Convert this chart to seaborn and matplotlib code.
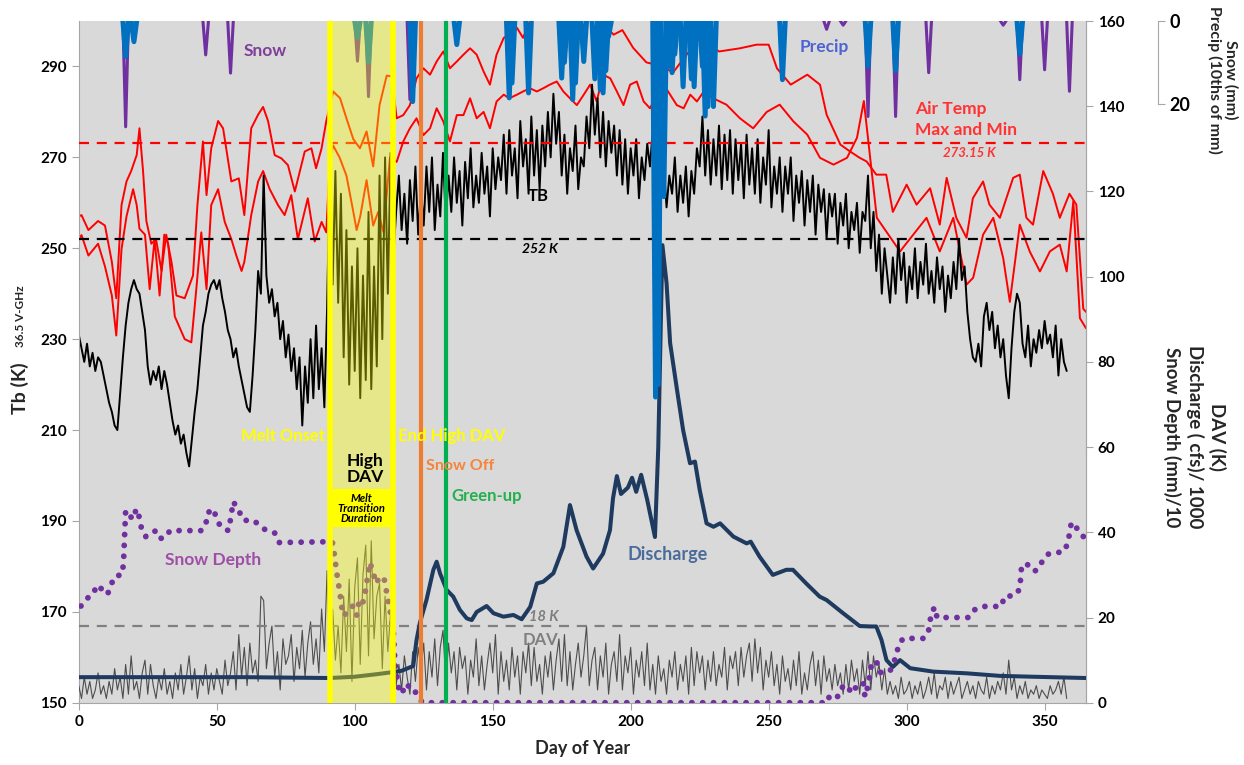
import numpy as np
import pandas as pd
import matplotlib
matplotlib.use("Agg")
import matplotlib.pyplot as plt
from matplotlib.patches import Rectangle
import seaborn as sns

# ---------------- values ----------------
# 36.5 V-GHz brightness temperature, one value per day (day 0 .. 358)
tb_k = [
    231, 228, 225, 229, 224, 227, 223, 226, 225, 222,
    219, 216, 214, 211, 210, 218, 226, 233, 238, 241,
    243, 241, 240, 236, 232, 224, 220, 223, 221, 224,
    219, 223, 220, 216, 212, 209, 211, 207, 209, 205,
    202, 208, 214, 219, 226, 233, 236, 240, 242, 243,
    241, 243, 239, 236, 232, 230, 226, 228, 224, 221,
    218, 215, 214, 222, 232, 245, 240, 266, 244, 238,
    241, 235, 238, 230, 234, 226, 231, 223, 228, 219,
    226, 211, 224, 216, 230, 217, 233, 219, 228, 215,
    237, 269, 242, 267, 238, 262, 226, 254, 220, 246,
    223, 250, 217, 244, 221, 258, 219, 246, 224, 266,
    230, 270, 240, 271, 248, 258, 266, 254, 262, 251,
    265, 256, 268, 253, 263, 255, 268, 258, 270, 254,
    264, 257, 271, 256, 266, 258, 270, 260, 267, 255,
    269, 261, 272, 259, 266, 260, 271, 262, 268, 257,
    272, 263, 270, 265, 275, 262, 276, 266, 272, 261,
    278, 268, 274, 262, 279, 266, 276, 263, 277, 268,
    280, 270, 284, 273, 280, 266, 275, 262, 272, 267,
    277, 263, 270, 268, 279, 272, 286, 275, 283, 270,
    280, 268, 278, 271, 277, 266, 276, 264, 274, 262,
    272, 266, 274, 261, 270, 265, 273, 268, 276, 262,
    270, 264, 268, 259, 266, 262, 270, 258, 266, 260,
    268, 257, 267, 262, 272, 268, 279, 266, 276, 264,
    274, 266, 277, 263, 275, 265, 276, 262, 274, 265,
    273, 261, 275, 264, 272, 262, 274, 260, 270, 264,
    276, 259, 268, 262, 270, 258, 268, 262, 270, 256,
    266, 260, 267, 255, 265, 258, 266, 253, 264, 258,
    263, 252, 262, 257, 262, 251, 260, 255, 262, 250,
    258, 254, 260, 249, 258, 256, 266, 250, 258, 245,
    253, 240, 250, 244, 238, 248, 240, 252, 243, 249,
    238, 246, 241, 250, 239, 247, 242, 251, 240, 245,
    238, 248, 241, 246, 236, 244, 239, 247, 241, 252,
    243, 246, 236, 230, 226, 225, 229, 224, 235, 238,
    232, 236, 228, 233, 226, 230, 222, 217, 228, 236,
    240, 238, 229, 226, 233, 224, 230, 227, 232, 228,
    234, 229, 231, 226, 233, 222, 230, 225, 223,
]

# diurnal amplitude variation (K), one value per day
dav_k = [
    4, 1, 6, 2, 5, 1, 3, 7, 2, 4,
    1, 5, 2, 8, 3, 6, 1, 9, 2, 11,
    3, 5, 1, 7, 10, 2, 9, 4, 1, 6,
    3, 8, 2, 5, 1, 7, 3, 9, 2, 6,
    11, 3, 8, 1, 6, 4, 9, 2, 7, 3,
    8, 5, 2, 10, 4, 7, 12, 3, 16, 6,
    13, 4, 14, 7, 10, 5, 25, 24, 8, 14,
    18, 6, 12, 3, 15, 9, 11, 16, 5, 13,
    8, 17, 6, 14, 19, 9, 15, 7, 22, 12,
    31, 6, 22, 10, 18, 7, 25, 12, 29, 5,
    27, 34, 9, 30, 37, 11, 38, 15, 25, 28,
    8, 25, 12, 21, 16, 4, 9, 3, 11, 6,
    2, 12, 5, 13, 8, 14, 3, 12, 6, 15,
    4, 13, 17, 5, 14, 7, 12, 3, 13, 8,
    11, 2, 10, 6, 15, 4, 11, 3, 9, 14,
    7, 16, 2, 12, 5, 10, 3, 13, 6, 11,
    2, 12, 7, 14, 4, 13, 5, 9, 2, 11,
    6, 12, 3, 10, 15, 5, 16, 4, 12, 3,
    9, 14, 6, 11, 18, 4, 10, 13, 3, 11,
    6, 14, 2, 9, 12, 5, 16, 3, 11, 7,
    13, 2, 10, 6, 12, 4, 14, 3, 9, 2,
    11, 5, 8, 2, 10, 6, 12, 3, 9, 5,
    11, 2, 13, 4, 12, 7, 11, 3, 10, 5,
    12, 4, 9, 6, 13, 3, 11, 8, 12, 4,
    13, 6, 11, 14, 5, 15, 7, 13, 3, 10,
    6, 12, 4, 9, 2, 11, 5, 8, 3, 10,
    4, 12, 2, 7, 3, 9, 12, 4, 10, 2,
    11, 5, 8, 3, 9, 4, 7, 2, 9, 3,
    10, 5, 8, 2, 10, 4, 12, 3, 11, 6,
    9, 3, 8, 2, 5, 2, 4, 1, 6, 2,
    3, 5, 1, 4, 2, 5, 1, 3, 6, 2,
    7, 1, 4, 3, 6, 1, 5, 2, 4, 6,
    1, 3, 5, 2, 4, 1, 5, 3, 2, 6,
    1, 4, 2, 5, 3, 7, 2, 10, 3, 6,
    1, 4, 2, 5, 1, 3, 2, 4, 1, 3,
    2, 1, 4, 2, 3, 5, 2, 6, 1,
]

# air temperature max / min (K)
airmax_day = [0, 1, 3.5, 7, 9.5, 12, 13.6, 15.5, 17.3, 19, 21, 22, 23.3, 24.5, 26.3,
              28, 30, 31.7, 33.6, 35.4, 38.4, 41.4, 43, 45, 46.3, 48, 50.5, 52.3, 55.3,
              58, 60, 62.5, 65, 66.8, 68.6, 71, 73.4, 75.8, 78.3, 81.9, 84.3, 86, 88, 89.7,
              92.2, 94.7, 97, 99.5, 101.9, 104.3, 106.7, 109, 111.6, 113.4, 115.2, 117.6,
              120, 122.4, 124.9, 127.3, 129.7, 132.1, 134.5, 137, 139.4, 141.8, 144.2,
              146.7, 149, 151.4, 154, 156, 158.8, 161, 163.5, 167, 171, 175, 179, 183,
              187, 190, 193.8, 197, 200.9, 205.7, 210.5, 215.4, 220, 225, 232, 239.6,
              245.6, 250, 253, 258, 264, 268.6, 271, 276, 279.5, 283, 285.5, 289, 292.6,
              295, 300, 303.6, 308.5, 312, 314.5, 318, 321.7, 324, 327.7, 330, 333.8,
              338.6, 341, 343.4, 345.8, 349.5, 353, 355.5, 359, 361.5, 364, 365]
airmax_k = [257, 257.3, 254, 256, 255, 247, 239, 259.5, 264.7, 267, 270.5, 276.4, 267, 256, 251,
            252, 245, 253, 247, 239.6, 239, 244, 259.5, 273.5, 261.7, 272, 278, 276.4, 264.7,
            265.4, 257.3, 276.4, 279.4, 281.1, 278, 270.5, 269.8, 268.3, 262.5, 271.3, 272, 267.6, 272, 278,
            284.5, 283, 278.6, 274, 272, 275.7, 268, 281.5, 288, 287.8, 278.6, 279.3,
            281.5, 287.4, 289.6, 288.2, 291.1, 293.3, 289.6, 291.1, 292.6, 294, 292.6,
            288.9, 286, 292.6, 296.3, 297, 298.5, 296.3, 300, 301, 303, 300.5, 302, 300.5,
            302, 299.5, 297, 298, 294.1, 290.9, 290.2, 288.7, 292.4, 296.2, 293.3, 294,
            294.8, 294.8, 289.6, 286, 288.2, 286, 279.4, 272.8, 271.3, 269.9, 269.1, 266.2, 266.2,
            258, 264, 259.6, 263.2, 255.2, 265.5, 256.7, 252.3, 261, 264.7, 259.6, 256.7,
            265.5, 266.2, 256.7, 255.2, 267, 262, 256.7, 262, 259.6, 236.7, 236]
airmin_day = [0, 1, 3.5, 7, 9.5, 12, 13.6, 15.5, 17.3, 19.7, 21, 22, 24, 25.7, 27.5, 29.3,
              31, 32.4, 34.8, 38.4, 40.8, 42.6, 44.4, 46.3, 48, 50.5, 52.9, 55.3, 57.1, 59,
              60, 62.5, 65, 66.8, 69.2, 72.2, 74.6, 77, 79.4, 83, 85.5, 88, 89.7,
              91, 92.2, 94.5, 97, 99.5, 100.7, 102, 104.3, 106.7, 108.5, 110.4, 112.8,
              115.2, 117.6, 120, 122.4, 124.9, 127.3, 129.7, 132.1, 134.5, 137, 139.4,
              141.8, 144.2, 146.7, 149, 151.4, 154, 156, 158.8, 161, 163.5, 166, 168.3,
              170.7, 173.2, 175.6, 178, 180.5, 183, 185.3, 187.7, 190, 192.6, 195, 197.4,
              199.8, 202.2, 204.7, 207, 209.5, 212, 214.3, 216.7, 219.2, 221.6, 224, 226.5,
              229.9, 234.7, 239.6, 244.4, 249.3, 254, 259, 264, 268.6, 273.5, 278.4, 282,
              284.5, 286.8, 289.2, 292.6, 297.6, 302.4, 307.2, 312, 316.9, 321.7, 324.1,
              327.7, 331.4, 335, 337.4, 341, 344.6, 348.3, 351.9, 355.5, 358, 360.4, 362.8, 365]
airmin_k = [252, 252.9, 248.4, 251, 246, 239.6, 230.8, 249.8, 257, 263, 259.5, 254.3, 253, 241, 252, 239.6,
            253, 251, 235, 230, 229.3, 241, 253.5, 241, 259.5, 263, 255.8, 252, 248.4, 245,
            247, 257.3, 264.7, 267, 263, 259.5, 257.3, 261.7, 252, 261, 251.5, 255.8, 253.5,
            269.7, 272.6, 270, 266, 258, 254, 257, 265, 255, 258, 253.6, 270,
            269, 273.5, 276.4, 278.6, 274.9, 276.4, 280.8, 277.9, 273.5, 279.3, 279.3,
            283, 278.6, 280, 276.4, 282.3, 283.8, 283, 283.8, 284.5, 285.2, 284.5, 285.2,
            286, 286.7, 284.5, 283, 281.5, 283.8, 286, 282.3, 288.2, 287.4, 284.5, 281.5,
            286, 286.7, 282.3, 280.8, 283.8, 286, 283.8, 281.5, 280.8, 283.8, 282.3, 284.5,
            283, 281.6, 278.6, 276.4, 280, 281.6, 277.9, 275, 269.9, 268.4, 269.9, 274.3,
            282.4, 269.9, 256.7, 253.7, 249.3, 253, 256.7, 249.3, 256.7, 242, 243.5,
            253, 256.7, 247.8, 238.2, 255.2, 249.3, 244.9, 249.3, 250.8, 244.9, 260.4, 234.6, 232.4]

# discharge (cfs / 1000)
q_day = [0, 30, 60, 91, 100, 108, 114, 117, 120, 121.2, 122.4, 123.6, 126, 128.5, 129.7,
         130.9, 133.3, 135.7, 138.1, 140.6, 142.4, 144.2, 147.8, 150.3, 153.9, 157.5, 160.5,
         163.6, 166, 168.3, 172, 175.6, 178, 180.4, 184, 186.4, 190, 192.5, 193.6, 195,
         196.5, 199, 200.5, 202, 203.8, 206, 208.8, 210, 211.5, 213, 214.3, 216.8, 219,
         221.5, 223.3, 225, 227.5, 230, 232.4, 237.2, 242, 243.5, 246.7, 251.5, 256.4,
         258.8, 263.6, 268.5, 271, 277, 283, 286.7, 289, 290.9, 292.7, 295, 297.6, 301.3,
         309.7, 321.8, 333.8, 345.9, 365]
q_val = [6, 6, 6, 5.8, 6.1, 6.7, 7.2, 7.5, 8.3, 8.6, 14.7, 18.7, 24.1, 31.2, 33.1,
         30.4, 26.5, 24.9, 21.8, 19.8, 19.4, 21.3, 22.7, 21, 20.2, 20.6, 19.6,
         22.5, 28, 28.4, 30.4, 36.6, 46.4, 40.5, 34.3, 31.5, 35, 40.5, 48, 53.2,
         49, 50.5, 52.8, 49.5, 53.5, 47.6, 38.9, 60, 107.4, 98.5, 84.4, 73.4, 64,
         56.2, 56.6, 50, 42.1, 41.3, 42.1, 39, 37.4, 37.8, 34.3, 30, 31.2,
         31.2, 28, 24.9, 24.1, 21, 18, 17.9, 17.9, 14.7, 10, 8.4, 10, 8.1,
         7.3, 6.9, 6.3, 6.1, 5.8]

# snow depth (mm / 10)
sd_day = [0.8, 2.6, 5.3, 6.5, 8.7, 10.4, 11.7, 12.9, 15.7, 16.2, 16.5, 17, 18, 19.8, 20.8,
          22.2, 22.8, 24.3, 25.5, 27.9, 29.5, 31, 33.1, 44.5, 46.1, 46.6, 48.8, 50, 51.4,
          54.2, 54.8, 56, 58.2, 59.7, 63.5, 65.7, 68.1, 71.1, 72.6, 91.9, 92.5, 93.5, 94.7,
          95.7, 97.5, 99.3, 100.7, 101.7, 102.9, 103.7, 104.3, 105.5, 106.7, 107.7, 109.2,
          110.6, 111.3, 112.8, 114, 114.6, 115.6, 116.4, 117.6, 119, 120.6, 122, 123.5,
          124.5, 270.5, 271.6, 272.8, 275.8, 277, 278, 280.7, 281.9, 284.3, 284.9, 286.1,
          287.3, 289.1, 290.3, 293.9, 296.4, 297, 298.8, 306, 307.8, 308.4, 309, 310.2,
          311, 322.3, 324, 327, 334.3, 335.5, 339.1, 341, 341.6, 343.4, 345.3, 347, 348.8,
          350.7, 353, 356.6, 358.5, 359, 359.7, 360.5, 362.9, 364.5]
sd_val = [22.7, 24.3, 25.5, 27.6, 26.5, 25.4, 27.6, 29.6, 30.1, 32.6, 37.4, 45.1, 44.1, 43.1, 45.5,
          43.1, 40.5, 39, 39.2, 40.4, 38.6, 38.6, 40.4, 40.4, 42, 44.5, 45.5, 43.1, 41.3,
          40.4, 42.3, 47.2, 44.8, 42.8, 42.8, 41.4, 40.4, 39.8, 37.6, 37.8, 35.4, 30.5, 25.4,
          20.5, 21.1, 22.7, 20.5, 24.2, 23.4, 25.5, 28, 32.9, 30.6, 28, 29.6,
          29.3, 26.8, 21.7, 16.8, 9.3, 4.5, 2.1, 2.9, 4.5, 2.5, 2.5, 1,
          0, 0, 1.4, 0.6, 1.8, 4.2, 3.8, 2.2, 4.2, 4.6, 1.4, 4.2,
          9.3, 9.7, 7.1, 7.3, 11.2, 13.6, 15.1, 15.1, 16.3, 18.8, 21.2, 22.4,
          20, 20, 21.6, 22.6, 22.6, 25, 25.1, 26.7, 31.6, 32.8, 31, 31, 32.8,
          34.7, 35.3, 35.3, 37.4, 39.8, 42.3, 41.5, 40.4, 38.4]

# daily snowfall (mm) and precipitation (10ths of mm) events
snow_day = [17, 46, 55, 101, 105, 120, 271, 277, 286, 296, 308, 335, 341, 350, 359]
snow_mm = [25.6, 8.2, 12.6, 9.7, 18.3, 19, 2, 1, 23.1, 23.1, 12.5, 1, 14.2, 11.8, 17]
precip_day = [17, 20, 101, 105, 121, 137, 156, 157, 163, 175, 176, 179, 180, 183, 187, 189,
              190, 191, 192, 209, 210, 212, 214, 215, 216, 219, 222, 223, 226, 227, 228,
              230, 255, 286, 296, 341]
precip_val = [8.6, 5, 4, 10, 19.5, 5.7, 18.6, 15, 17.4, 13.8, 10, 19, 15, 9.8, 14, 16.6,
              17.4, 12, 3.7, 91, 88, 42.5, 11, 12.5, 8, 15.9, 14, 15.9, 11, 23, 20.7,
              20.7, 14.2, 11, 12, 8]

melt_onset, end_high_dav, snow_off, green_up = 91, 114, 124, 133
tb_thresh, freeze_k, dav_thresh = 252, 273.15, 18

# ---------------- tables ----------------
tb = pd.DataFrame({"day": np.arange(len(tb_k)), "tb": tb_k})
dav = pd.DataFrame({"day": np.arange(len(dav_k)), "dav": dav_k})
amax = pd.DataFrame({"day": airmax_day, "t": airmax_k})
amin = pd.DataFrame({"day": airmin_day, "t": airmin_k})
dis = pd.DataFrame({"day": q_day, "q": q_val})
sdep = pd.DataFrame({"day": sd_day, "sd": sd_val})


def spikes(days, vals):
    # one V per daily event, kept apart with a unit id
    rows = []
    for i, (d, v) in enumerate(zip(days, vals)):
        rows += [(d - 1, 0, i), (d, v, i), (d + 1, 0, i)]
    return pd.DataFrame(rows, columns=["day", "v", "ev"])


snw = spikes(snow_day, snow_mm)
prc = spikes(precip_day, precip_val)

# ---------------- plot ----------------
sns.set_style("ticks")
plt.rcParams["font.family"] = ["Lato", "DejaVu Sans"]
plt.rcParams["font.weight"] = "bold"

fig = plt.figure(figsize=(12.44, 7.65), dpi=100)
ax = fig.add_axes([0.0633, 0.0814, 0.8097, 0.8911])
ax2 = ax.twinx()
ax3 = ax.twinx()
ax.set_facecolor("#d9d9d9")

# left axis: air temperatures and TB
sns.lineplot(data=amax, x="day", y="t", ax=ax, color="#ff0000", lw=1.4, estimator=None, zorder=2)
sns.lineplot(data=amin, x="day", y="t", ax=ax, color="#ff0000", lw=1.4, estimator=None, zorder=2)
sns.lineplot(data=tb, x="day", y="tb", ax=ax, color="black", lw=1.4, estimator=None, zorder=2.5)
ax.axhline(freeze_k, color="#ff0000", lw=1.6, ls=(0, (4.5, 3.5)), zorder=3)
ax.axhline(tb_thresh, color="black", lw=1.6, ls=(0, (4.5, 3.5)), zorder=3)

# right axis: DAV, discharge, snow depth
sns.lineplot(data=dav, x="day", y="dav", ax=ax2, color="#4d4d4d", lw=0.8, estimator=None, zorder=2)
ax2.axhline(dav_thresh, color="#808080", lw=1.6, ls=(0, (4.5, 3.5)), zorder=3)
sns.lineplot(data=dis, x="day", y="q", ax=ax2, color="#1f3a5f", lw=2.9, estimator=None, zorder=4)
sns.lineplot(data=sdep, x="day", y="sd", ax=ax2, color="#7030a0", lw=4.2, estimator=None,
             linestyle=(0, (0.01, 1.85)), dash_capstyle="round", zorder=5)

# third axis: snow fall / precip hanging from the top
sns.lineplot(data=snw, x="day", y="v", units="ev", estimator=None, ax=ax3, color="#7030a0", lw=2.2, zorder=2)
sns.lineplot(data=prc, x="day", y="v", units="ev", estimator=None, ax=ax3, color="#0070c0", lw=3.6, zorder=2)

# melt transition markers (on top of everything)
ax3.axvspan(melt_onset + 0.5, end_high_dav - 0.5, color="#ffff00", alpha=0.36, lw=0, zorder=5)
ax3.axvline(melt_onset, color="#ffff00", lw=4, zorder=6)
ax3.axvline(end_high_dav, color="#ffff00", lw=4, zorder=6)
ax3.axvline(snow_off, color="#ed7d31", lw=3, zorder=6)
ax3.axvline(green_up, color="#00b050", lw=3, zorder=6)
ax3.add_patch(Rectangle((melt_onset, 188.6), end_high_dav - melt_onset, 8.4,
                        transform=ax.transData, facecolor="#ffff00", lw=0, zorder=6))

# limits / ticks
ax.set_xlim(0, 365)
ax.set_ylim(150, 300)
ax2.set_ylim(0, 160)
ax3.set_ylim(165, 0)
ax.set_xticks(range(0, 351, 50))
ax.set_yticks(range(150, 291, 20))
ax2.set_yticks(range(0, 161, 20))
ax3.set_yticks([0, 20])

grey = "#a6a6a6"
for a in (ax, ax2, ax3):
    a.spines["top"].set_visible(False)
    for s in a.spines.values():
        s.set_color(grey)
ax2.spines["left"].set_visible(False)
ax2.spines["bottom"].set_visible(False)
ax3.spines["left"].set_visible(False)
ax3.spines["bottom"].set_visible(False)
ax3.spines["right"].set_position(("axes", 1.0715))
ax3.spines["right"].set_bounds(0, 20)

ax.tick_params(axis="both", length=5, color=grey, labelsize=11, labelcolor="black")
ax2.tick_params(axis="y", length=5, color=grey, labelsize=11, labelcolor="black")
ax3.tick_params(axis="y", length=5, color=grey, labelsize=13, labelcolor="black")
for lab in (ax.get_xticklabels() + ax.get_yticklabels() + ax2.get_yticklabels()
            + ax3.get_yticklabels()):
    lab.set_fontweight("bold")

ax.set_xlabel("Day of Year", fontsize=13, fontweight="bold", labelpad=8)
ax.set_ylabel("")
ax2.set_ylabel("")
ax3.set_ylabel("")

fig.text(0.0161, 0.4928, "Tb (K)", rotation=90, fontsize=14, fontweight="bold", ha="center", va="center")
fig.text(0.0161, 0.587, "36.5 V-GHz", rotation=90, fontsize=8.5, fontweight="bold", ha="center", va="center")
fig.text(0.9605, 0.4288, "DAV (K)\nDischarge ( cfs)/ 1000\nSnow Depth (mm)/10", rotation=270,
         fontsize=13.5, fontweight="bold", ha="center", va="center", multialignment="center",
         linespacing=1.3)
fig.text(0.9825, 0.8955, "Snow (mm)\nPrecip (10ths of mm)", rotation=270, fontsize=11.5,
         fontweight="bold", ha="center", va="center", multialignment="center", linespacing=1.1)

# annotations (left-axis data coordinates)
def note(x, y, s, color, size=12, ha="center", **kw):
    ax3.text(x, y, s, transform=ax.transData, color=color, fontsize=size, ha=ha,
             va="center", fontweight="bold", zorder=10, **kw)


note(67.5, 293.5, "Snow", "#7f3f98", 12.5)
note(270, 294.2, "Precip", "#4d63d2", 12.5)
note(303, 278.3, "Air Temp\nMax and Min", "#ff3333", 12.5, ha="left", linespacing=1.35)
note(322.6, 270.9, "273.15 K", "#ff3333", 9.5, style="italic")
note(166.4, 261.6, "TB", "black", 12)
note(167, 249.9, "252 K", "black", 10, style="italic")
note(89.2, 208.6, "Melt Onset", "#ffff00", 12, ha="right")
note(103.7, 201.4, "High\nDAV", "black", 12.5, linespacing=0.95)
note(102.5, 192.8, "Melt\nTransition\nDuration", "black", 8, style="italic", linespacing=0.9)
note(115.7, 208.6, "End High DAV", "#ffff00", 12, ha="left")
note(125.8, 202, "Snow Off", "#f5843c", 11.5, ha="left")
note(135.2, 195.4, "Green-up", "#22b14c", 12, ha="left")
note(31.3, 181.5, "Snow Depth", "#9e4ea5", 12.5, ha="left")
note(198.7, 182.6, "Discharge", "#4a6c9b", 13, ha="left")
note(168.6, 168.9, "18 K", "#7f7f7f", 10.5, style="italic")
note(167.2, 163.8, "DAV", "#7f7f7f", 12)

fig.savefig("out.png", dpi=100)
